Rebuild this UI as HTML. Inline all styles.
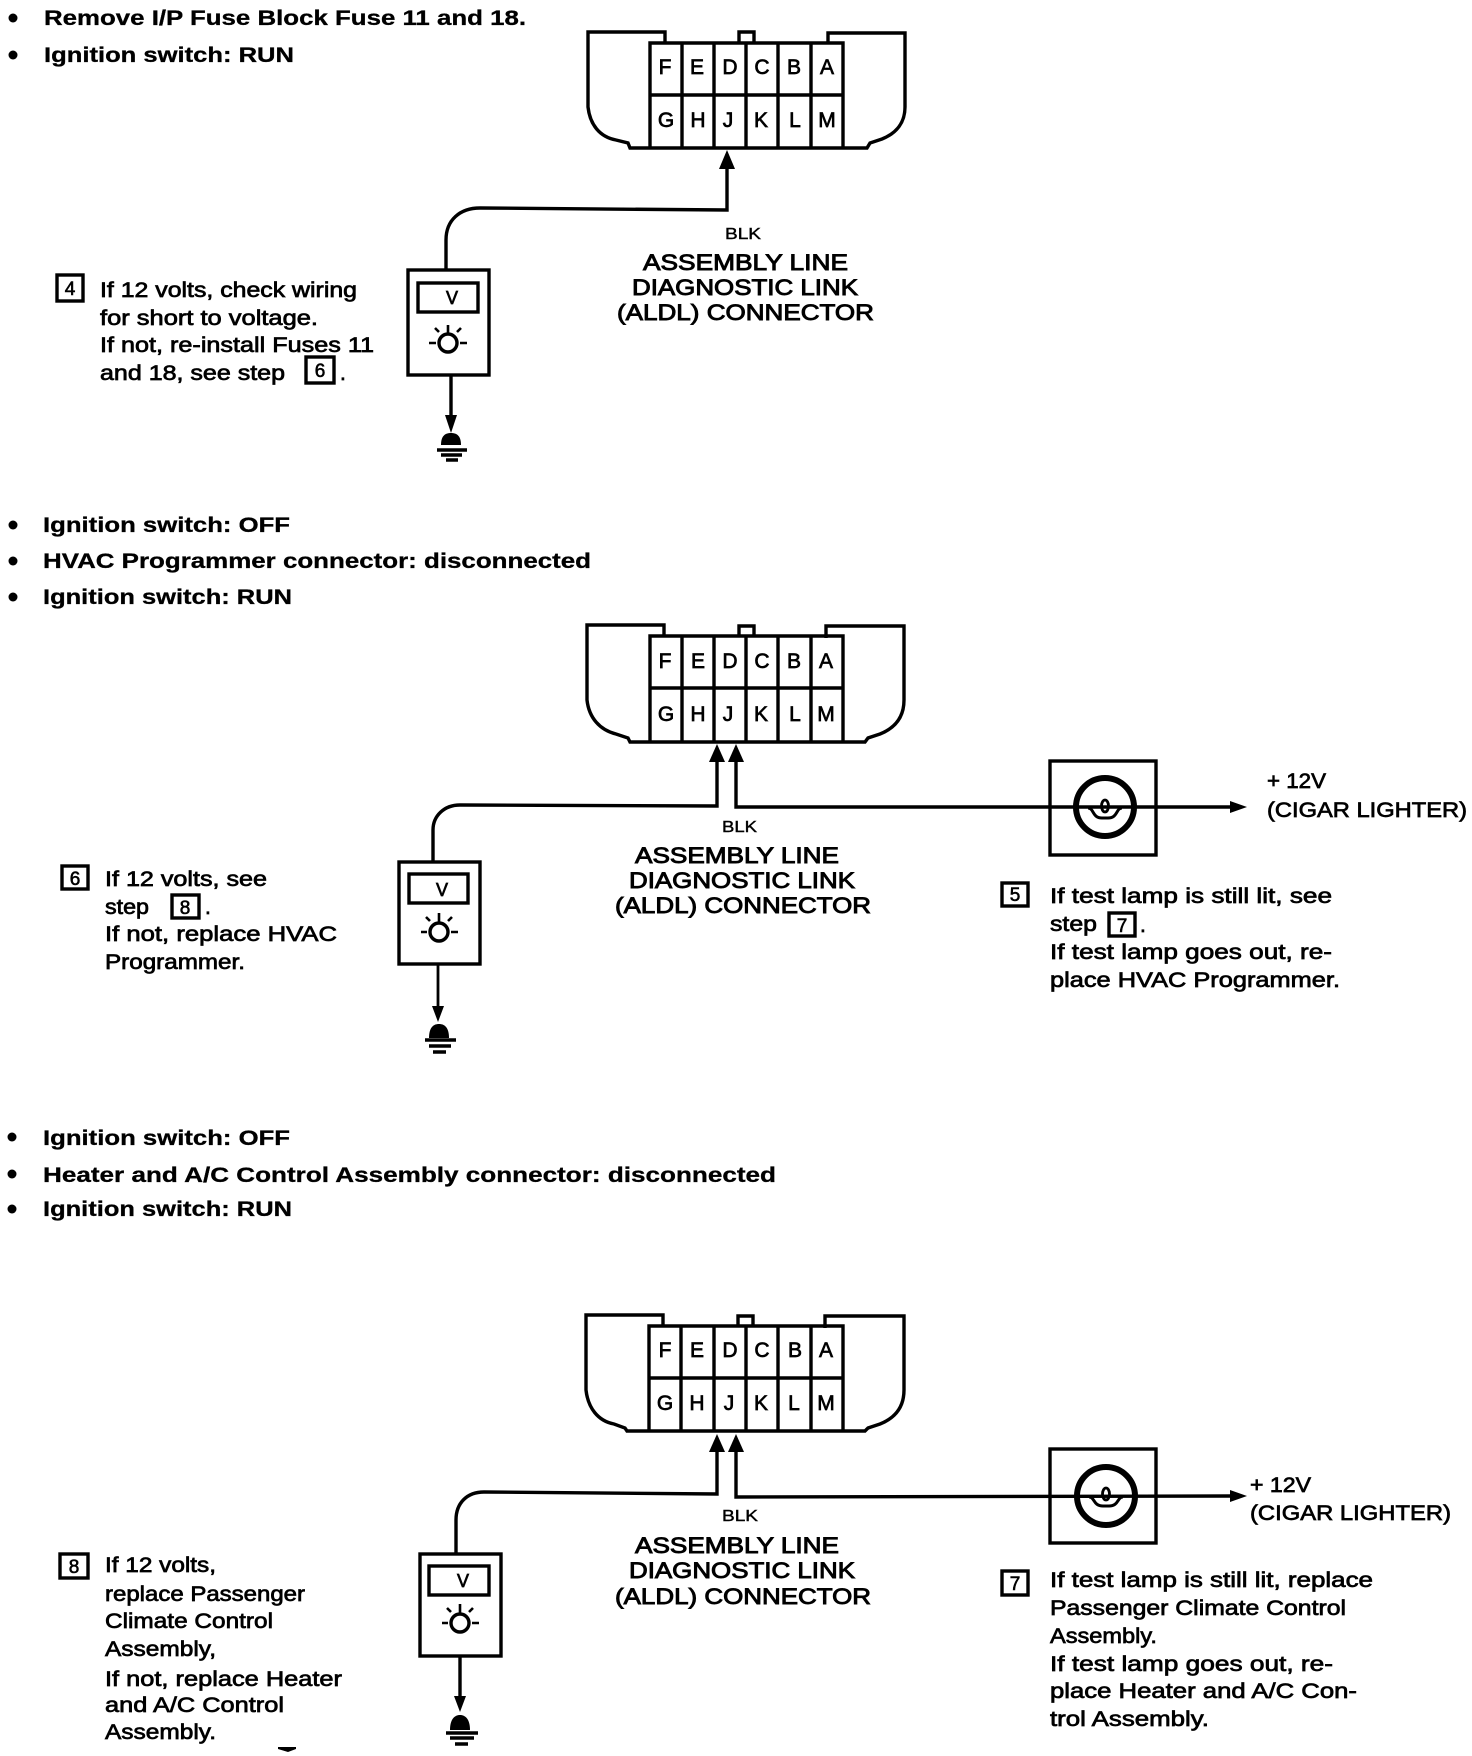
<!DOCTYPE html>
<html lang="en"><head><meta charset="utf-8"><title>ALDL connector test diagrams</title>
<style>
html,body{margin:0;padding:0;background:#fff;width:1472px;height:1756px;overflow:hidden}
svg{display:block}
text{font-family:"Liberation Sans",Arial,sans-serif;fill:#000}
.b{font-size:21px;font-weight:bold;stroke:#000;stroke-width:.3px}
.t{font-size:21px;stroke:#000;stroke-width:.7px}
.h{font-size:22px;stroke:#000;stroke-width:.9px}
.s{font-size:16px;stroke:#000;stroke-width:.4px}
.n{font-size:19px;stroke:#000;stroke-width:.6px;text-anchor:middle}
.l{font-size:21px;stroke:#000;stroke-width:.7px;text-anchor:middle}
.w{fill:none;stroke:#000;stroke-width:3.4}
.f{fill:#000;stroke:none}
</style></head><body>
<svg width="1472" height="1756" viewBox="0 0 1472 1756" xmlns="http://www.w3.org/2000/svg">

<!-- Section 1 -->
<circle class="f" cx="13" cy="18" r="4.5"/><circle class="f" cx="13" cy="55" r="4.5"/>
<text class="b" x="44" y="25" textLength="482" lengthAdjust="spacingAndGlyphs">Remove I/P Fuse Block Fuse 11 and 18.</text>
<text class="b" x="44" y="62" textLength="250" lengthAdjust="spacingAndGlyphs">Ignition switch: RUN</text>

<g>
<path class="w" d="M665 42V32H588V107C590 125 600 137 616 140L628 143L630 148H867L870 143L882 139C897 133 905 122 905 107V33H828V44"/>
<path class="w" d="M739 42V32H754V42"/>
<path class="w" d="M650 148V43H843V148M682 43V148M714 43V148M746 43V148M778 43V148M811 43V148M650 95H843"/>
<text class="l" x="665 697 730 762 794 827" y="74">FEDCBA</text>
<text class="l" x="666 698 728 761 795 827" y="127">GHJKLM</text>
</g>
<path class="f" d="M727 150L735 169H719Z"/>
<path class="w" d="M727 165V210L480 208C460 208 446 220 446 240V269"/>
<text class="s" x="725" y="239" textLength="36" lengthAdjust="spacingAndGlyphs">BLK</text>
<text class="h" x="643" y="270" textLength="205" lengthAdjust="spacingAndGlyphs">ASSEMBLY LINE</text>
<text class="h" x="632" y="295" textLength="226" lengthAdjust="spacingAndGlyphs">DIAGNOSTIC LINK</text>
<text class="h" x="617" y="320" textLength="257" lengthAdjust="spacingAndGlyphs">(ALDL) CONNECTOR</text>
<rect class="w" x="408" y="270" width="81" height="105"/>
<rect class="w" x="418" y="283" width="60" height="29"/>
<text class="l" x="452" y="304" style="font-size:18px">V</text>
<circle class="w" cx="448" cy="343" r="9"/>
<path class="w" style="stroke-width:2.6" d="M448 325V334M436 343H429M460 343H467M439 332L435 328M457 332L461 328"/>
<path class="w" d="M451 375V418"/>
<path class="f" d="M445 415H457L451 433Z"/>
<path class="f" d="M441 445C441 435 446 433 451 433C456 433 461 435 461 445Z"/>
<path class="w" d="M437 450H467M441 455H462M446 460H458"/>
<rect class="w" x="57" y="275" width="26" height="26"/>
<text class="n" x="70" y="295">4</text>
<text class="t" x="100" y="297" textLength="257" lengthAdjust="spacingAndGlyphs">If 12 volts, check wiring</text>
<text class="t" x="100" y="325" textLength="218" lengthAdjust="spacingAndGlyphs">for short to voltage.</text>
<text class="t" x="100" y="352" textLength="274" lengthAdjust="spacingAndGlyphs">If not, re-install Fuses 11</text>
<text class="t" x="100" y="380" textLength="185" lengthAdjust="spacingAndGlyphs">and 18, see step</text>
<rect class="w" x="306" y="357" width="28" height="26"/>
<text class="n" x="320" y="377">6</text>
<text class="t" x="340" y="380">.</text>

<!-- Section 2 -->
<circle class="f" cx="13" cy="525" r="4.5"/><circle class="f" cx="13" cy="561" r="4.5"/><circle class="f" cx="13" cy="597" r="4.5"/>
<text class="b" x="43" y="532" textLength="247" lengthAdjust="spacingAndGlyphs">Ignition switch: OFF</text>
<text class="b" x="43" y="568" textLength="548" lengthAdjust="spacingAndGlyphs">HVAC Programmer connector: disconnected</text>
<text class="b" x="43" y="604" textLength="249" lengthAdjust="spacingAndGlyphs">Ignition switch: RUN</text>

<g>
<path class="w" d="M664 636V625H587V700C589 718 600 730 616 734L628 738L630 742H865L868 738L880 734C895 728 904 717 904 700V626H826V638"/>
<path class="w" d="M739 636V626H754V636"/>
<path class="w" d="M650 742V636H843V742M682 636V742M714 636V742M746 636V742M778 636V742M811 636V742M650 688H843"/>
<text class="l" x="665 698 730 762 794 826" y="668">FEDCBA</text>
<text class="l" x="666 698 728 761 795 826" y="721">GHJKLM</text>
</g>
<path class="f" d="M717 744L725 762H709Z"/>
<path class="f" d="M736 744L744 762H728Z"/>
<path class="w" d="M717 758V806L460 805C444 805 433 816 433 830V861"/>
<path class="w" d="M736 758V807H1232"/>
<path class="f" d="M1230 801L1247 807L1230 813Z"/>
<text class="s" x="722" y="832" textLength="35" lengthAdjust="spacingAndGlyphs">BLK</text>
<text class="h" x="635" y="863" textLength="204" lengthAdjust="spacingAndGlyphs">ASSEMBLY LINE</text>
<text class="h" x="629" y="888" textLength="226" lengthAdjust="spacingAndGlyphs">DIAGNOSTIC LINK</text>
<text class="h" x="615" y="913" textLength="256" lengthAdjust="spacingAndGlyphs">(ALDL) CONNECTOR</text>
<rect class="w" x="399" y="862" width="81" height="102"/>
<rect class="w" x="409" y="874" width="59" height="29"/>
<text class="l" x="442" y="896" style="font-size:18px">V</text>
<circle class="w" cx="439" cy="932" r="9"/>
<path class="w" style="stroke-width:2.6" d="M439 913V923M427 932H421M451 932H458M430 921L426 917M448 921L452 917"/>
<path class="w" d="M438 964V1010" style="stroke-width:2.8"/>
<path class="f" d="M432 1006H444L438 1022Z"/>
<path class="f" d="M429 1038C429 1028 433 1024 439 1024C445 1024 449 1028 449 1038Z"/>
<path class="w" d="M425 1040H456M429 1046H451M433 1052H446"/>
<rect class="w" x="1050" y="761" width="106" height="94"/>
<circle cx="1105" cy="807" r="29" fill="none" stroke="#000" stroke-width="6"/>
<path class="w" style="stroke-width:3" d="M1088 808C1094 808 1092 818 1102 818H1108C1118 818 1116 808 1122 808"/>
<ellipse class="w" style="stroke-width:2.8" cx="1105" cy="806" rx="3.5" ry="6"/>
<text class="t" x="1267" y="788" textLength="59" lengthAdjust="spacingAndGlyphs">+ 12V</text>
<text class="t" x="1267" y="817" textLength="200" lengthAdjust="spacingAndGlyphs">(CIGAR LIGHTER)</text>
<rect class="w" x="62" y="866" width="26" height="23"/>
<text class="n" x="75" y="885">6</text>
<text class="t" x="105" y="886" textLength="162" lengthAdjust="spacingAndGlyphs">If 12 volts, see</text>
<text class="t" x="105" y="914" textLength="44" lengthAdjust="spacingAndGlyphs">step</text>
<rect class="w" x="172" y="895" width="27" height="23"/>
<text class="n" x="185" y="914">8</text>
<text class="t" x="205" y="914">.</text>
<text class="t" x="105" y="941" textLength="232" lengthAdjust="spacingAndGlyphs">If not, replace HVAC</text>
<text class="t" x="105" y="969" textLength="140" lengthAdjust="spacingAndGlyphs">Programmer.</text>
<rect class="w" x="1002" y="883" width="26" height="23"/>
<text class="n" x="1015" y="901">5</text>
<text class="t" x="1050" y="903" textLength="282" lengthAdjust="spacingAndGlyphs">If test lamp is still lit, see</text>
<text class="t" x="1050" y="931" textLength="47" lengthAdjust="spacingAndGlyphs">step</text>
<rect class="w" x="1109" y="913" width="26" height="23"/>
<text class="n" x="1122" y="932">7</text>
<text class="t" x="1140" y="932">.</text>
<text class="t" x="1050" y="959" textLength="282" lengthAdjust="spacingAndGlyphs">If test lamp goes out, re-</text>
<text class="t" x="1050" y="987" textLength="290" lengthAdjust="spacingAndGlyphs">place HVAC Programmer.</text>

<!-- Section 3 -->
<circle class="f" cx="12" cy="1137" r="4.5"/><circle class="f" cx="12" cy="1174" r="4.5"/><circle class="f" cx="12" cy="1209" r="4.5"/>
<text class="b" x="43" y="1145" textLength="247" lengthAdjust="spacingAndGlyphs">Ignition switch: OFF</text>
<text class="b" x="43" y="1182" textLength="733" lengthAdjust="spacingAndGlyphs">Heater and A/C Control Assembly connector: disconnected</text>
<text class="b" x="43" y="1216" textLength="249" lengthAdjust="spacingAndGlyphs">Ignition switch: RUN</text>

<g>
<path class="w" d="M663 1326V1315H586V1390C588 1408 598 1421 614 1424L625 1428L627 1431H865L868 1428L880 1424C895 1418 904 1407 904 1390V1316H825V1328"/>
<path class="w" d="M738 1326V1316H753V1326"/>
<path class="w" d="M649 1431V1326H843V1431M681 1326V1431M714 1326V1431M746 1326V1431M778 1326V1431M811 1326V1431M649 1378H843"/>
<text class="l" x="665 697 730 762 795 826" y="1357">FEDCBA</text>
<text class="l" x="665 697 729 761 794 826" y="1410">GHJKLM</text>
</g>
<path class="f" d="M717 1434L725 1452H709Z"/>
<path class="f" d="M736 1434L744 1452H728Z"/>
<path class="w" d="M717 1448V1494L484 1492C467 1492 456 1503 456 1520V1553"/>
<path class="w" d="M736 1448V1497L1232 1496"/>
<path class="f" d="M1230 1490L1247 1496L1230 1502Z"/>
<text class="s" x="722" y="1521" textLength="36" lengthAdjust="spacingAndGlyphs">BLK</text>
<text class="h" x="635" y="1553" textLength="204" lengthAdjust="spacingAndGlyphs">ASSEMBLY LINE</text>
<text class="h" x="629" y="1578" textLength="226" lengthAdjust="spacingAndGlyphs">DIAGNOSTIC LINK</text>
<text class="h" x="615" y="1604" textLength="256" lengthAdjust="spacingAndGlyphs">(ALDL) CONNECTOR</text>
<rect class="w" x="420" y="1554" width="81" height="102"/>
<rect class="w" x="429" y="1566" width="60" height="29"/>
<text class="l" x="463" y="1587" style="font-size:18px">V</text>
<circle class="w" cx="460" cy="1623" r="9"/>
<path class="w" style="stroke-width:2.6" d="M460 1604V1614M448 1623H442M472 1623H479M451 1612L447 1608M469 1612L473 1608"/>
<path class="w" d="M460 1656V1700"/>
<path class="f" d="M454 1696H466L460 1712Z"/>
<path class="f" d="M450 1730C450 1720 454 1715 460 1715C466 1715 470 1720 470 1730Z"/>
<path class="w" d="M446 1733H478M450 1738H474M455 1744H468"/>
<path class="f" d="M278 1747H296V1749L288 1752L278 1749Z"/>
<rect class="w" x="1050" y="1449" width="106" height="94"/>
<circle cx="1106" cy="1496" r="29" fill="none" stroke="#000" stroke-width="6"/>
<path class="w" style="stroke-width:3" d="M1089 1497C1095 1497 1093 1506 1103 1506H1109C1119 1506 1117 1497 1123 1497"/>
<ellipse class="w" style="stroke-width:2.8" cx="1106" cy="1494" rx="3.5" ry="6"/>
<text class="t" x="1250" y="1492" textLength="61" lengthAdjust="spacingAndGlyphs">+ 12V</text>
<text class="t" x="1250" y="1520" textLength="201" lengthAdjust="spacingAndGlyphs">(CIGAR LIGHTER)</text>
<rect class="w" x="60" y="1554" width="28" height="24"/>
<text class="n" x="74" y="1573">8</text>
<text class="t" x="105" y="1572" textLength="111" lengthAdjust="spacingAndGlyphs">If 12 volts,</text>
<text class="t" x="105" y="1601" textLength="200" lengthAdjust="spacingAndGlyphs">replace Passenger</text>
<text class="t" x="105" y="1628" textLength="168" lengthAdjust="spacingAndGlyphs">Climate Control</text>
<text class="t" x="105" y="1656" textLength="111" lengthAdjust="spacingAndGlyphs">Assembly,</text>
<text class="t" x="105" y="1686" textLength="237" lengthAdjust="spacingAndGlyphs">If not, replace Heater</text>
<text class="t" x="105" y="1712" textLength="179" lengthAdjust="spacingAndGlyphs">and A/C Control</text>
<text class="t" x="105" y="1739" textLength="111" lengthAdjust="spacingAndGlyphs">Assembly.</text>
<rect class="w" x="1002" y="1571" width="26" height="24"/>
<text class="n" x="1015" y="1590">7</text>
<text class="t" x="1050" y="1587" textLength="323" lengthAdjust="spacingAndGlyphs">If test lamp is still lit, replace</text>
<text class="t" x="1050" y="1615" textLength="296" lengthAdjust="spacingAndGlyphs">Passenger Climate Control</text>
<text class="t" x="1050" y="1643" textLength="107" lengthAdjust="spacingAndGlyphs">Assembly.</text>
<text class="t" x="1050" y="1671" textLength="283" lengthAdjust="spacingAndGlyphs">If test lamp goes out, re-</text>
<text class="t" x="1050" y="1698" textLength="307" lengthAdjust="spacingAndGlyphs">place Heater and A/C Con-</text>
<text class="t" x="1050" y="1726" textLength="159" lengthAdjust="spacingAndGlyphs">trol Assembly.</text>
</svg>
</body></html>
